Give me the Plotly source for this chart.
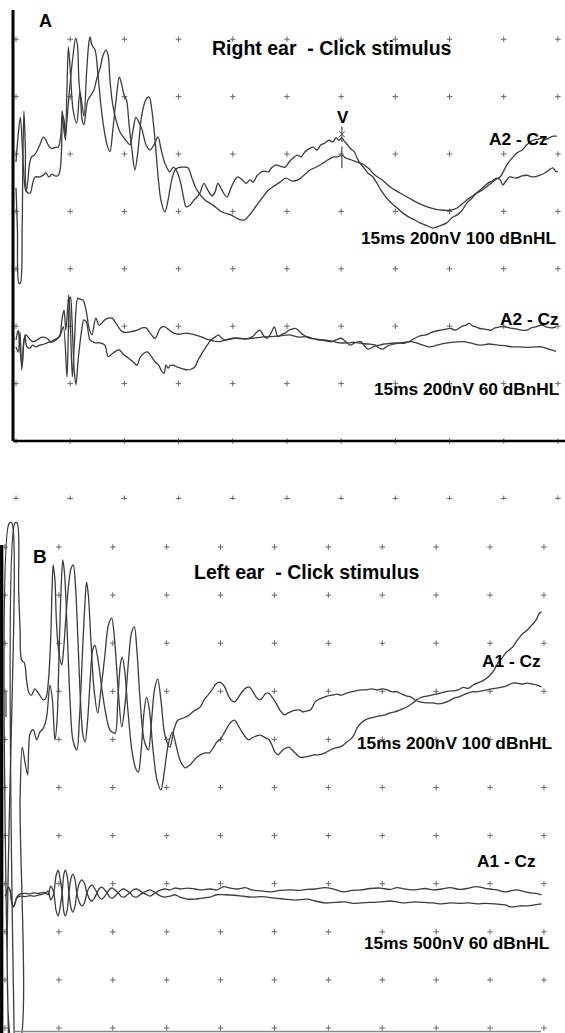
import plotly.graph_objects as go

# ---------------- data (time in ms, amplitude in screen divisions) ----------------
SWEEP_MS = 15.0
DIV_MS = 1.5
A_ROWS = list(range(-1, 8))      # amplitude divisions shown in panel A
B_ROWS = list(range(0, 11))      # amplitude divisions shown in panel B

# Panel A - right ear, 100 dBnHL (two replications)
A_R100_1 = [(0.00,4.41),(0.04,3.68),(0.08,2.75),(0.12,2.75),(0.17,3.68),(0.19,4.90),(0.22,5.75),(0.26,5.07),(0.30,4.34),(0.39,4.32),(0.47,4.51),(0.53,4.60),(0.66,4.60),(0.75,4.63),(0.83,4.67),(0.91,4.60),(1.00,4.65),(1.08,4.62),(1.16,4.62),(1.22,4.72),(1.26,5.07),(1.29,5.68),(1.33,5.59),(1.37,5.24),(1.41,6.12),(1.45,6.86),(1.51,6.38),(1.58,5.77),(1.68,5.54),(1.77,6.08),(1.88,5.66),(1.95,6.38),(2.01,6.90),(2.05,7.04),(2.10,6.90),(2.19,6.81),(2.27,6.38),(2.35,5.85),(2.44,5.42),(2.52,5.16),(2.60,5.04),(2.68,5.42),(2.77,5.94),(2.86,6.34),(2.93,6.20),(2.99,6.03),(3.06,5.94),(3.13,5.51),(3.21,5.07),(3.29,4.72),(3.38,5.07),(3.46,5.59),(3.54,5.85),(3.63,5.98),(3.69,5.99),(3.76,5.77),(3.85,5.24),(3.93,4.63),(4.01,4.20),(4.12,3.99),(4.21,4.20),(4.31,4.55),(4.40,4.72),(4.48,4.76),(4.59,4.77),(4.76,4.76),(4.87,4.58),(5.01,4.37),(5.23,4.20),(5.45,4.11),(5.70,3.99),(5.95,3.94),(6.14,3.87),(6.31,3.85),(6.48,3.95),(6.64,4.09),(6.81,4.23),(6.98,4.37),(7.14,4.44),(7.31,4.51),(7.47,4.58),(7.64,4.53),(7.81,4.55),(7.97,4.63),(8.14,4.72),(8.30,4.77),(8.47,4.83),(8.64,4.90),(8.80,4.95),(8.91,4.95),(9.02,4.98),(9.13,4.93),(9.27,4.90),(9.44,4.86),(9.58,4.83),(9.74,4.76),(9.94,4.63),(10.13,4.55),(10.35,4.43),(10.63,4.32),(10.91,4.22),(11.18,4.13),(11.38,4.08),(11.60,4.04),(11.82,4.02),(12.01,4.02),(12.21,4.06),(12.35,4.13),(12.48,4.20),(12.68,4.29),(12.84,4.37),(13.04,4.48),(13.18,4.53),(13.31,4.58),(13.40,4.55),(13.48,4.46),(13.56,4.53),(13.67,4.60),(13.84,4.58),(14.01,4.62),(14.14,4.63),(14.31,4.60),(14.50,4.63),(14.64,4.67),(14.75,4.72),(14.86,4.76),(14.95,4.69),(15.00,4.70)]

A_R100_2 = [(0.00,4.86),(0.06,5.33),(0.12,5.64),(0.18,5.07),(0.24,4.46),(0.28,4.34),(0.33,4.55),(0.37,4.81),(0.43,4.95),(0.50,4.98),(0.57,5.04),(0.66,5.16),(0.76,5.30),(0.83,5.24),(0.89,5.16),(0.97,5.10),(1.03,5.10),(1.11,5.12),(1.17,5.12),(1.24,5.33),(1.28,5.75),(1.31,5.51),(1.36,5.28),(1.41,5.59),(1.47,6.03),(1.52,6.38),(1.58,6.72),(1.65,7.02),(1.70,6.90),(1.74,6.29),(1.79,5.94),(1.83,5.59),(1.88,5.51),(1.94,5.77),(1.99,5.94),(2.08,6.03),(2.16,6.12),(2.24,6.32),(2.33,6.50),(2.41,6.72),(2.49,6.81),(2.55,6.72),(2.60,6.29),(2.68,5.85),(2.77,5.59),(2.88,5.38),(2.99,5.28),(3.10,5.19),(3.16,5.16),(3.24,5.42),(3.32,5.64),(3.40,5.56),(3.49,5.42),(3.60,5.16),(3.71,5.07),(3.82,5.16),(3.93,5.30),(4.01,5.10),(4.12,4.84),(4.26,4.69),(4.35,4.77),(4.46,4.69),(4.57,4.46),(4.65,4.20),(4.71,4.08),(4.82,4.11),(4.93,4.20),(5.01,4.25),(5.09,4.32),(5.20,4.49),(5.31,4.37),(5.43,4.27),(5.51,4.34),(5.59,4.49),(5.70,4.37),(5.84,4.25),(5.95,4.41),(6.06,4.55),(6.14,4.60),(6.26,4.55),(6.37,4.49),(6.48,4.55),(6.56,4.51),(6.67,4.62),(6.75,4.67),(6.86,4.70),(6.98,4.69),(7.09,4.77),(7.20,4.81),(7.31,4.79),(7.45,4.77),(7.56,4.86),(7.67,4.93),(7.78,4.98),(7.89,4.95),(8.00,5.04),(8.11,5.09),(8.22,5.12),(8.33,5.07),(8.44,5.16),(8.55,5.19),(8.66,5.24),(8.77,5.21),(8.86,5.28),(8.94,5.24),(9.02,5.28),(9.08,5.23),(9.16,5.17),(9.25,5.10),(9.36,5.04),(9.44,4.93),(9.52,4.84),(9.63,4.76),(9.74,4.67),(9.88,4.60),(9.99,4.49),(10.10,4.37),(10.24,4.25),(10.38,4.15),(10.55,4.06),(10.71,3.97),(10.88,3.90),(11.04,3.85),(11.18,3.80),(11.35,3.76),(11.54,3.71),(11.74,3.75),(11.92,3.80),(12.07,3.89),(12.21,3.94),(12.35,4.02),(12.48,4.15),(12.62,4.23),(12.76,4.32),(12.90,4.37),(13.03,4.43),(13.15,4.49),(13.29,4.56),(13.40,4.60),(13.51,4.72),(13.62,4.84),(13.76,4.95),(13.87,5.02),(14.01,5.07),(14.14,5.16),(14.23,5.21),(14.31,5.24),(14.45,5.26),(14.59,5.28),(14.70,5.26),(14.81,5.30),(14.89,5.31),(14.97,5.31)]

# Panel A - right ear, 60 dBnHL
A_R60_1 = [(0.00,1.76),(0.06,1.93),(0.11,1.59),(0.17,1.32),(0.22,1.76),(0.28,1.85),(0.36,1.79),(0.47,1.73),(0.58,1.76),(0.72,1.81),(0.86,1.79),(0.97,1.72),(1.11,1.76),(1.22,1.85),(1.27,2.11),(1.33,2.28),(1.38,1.93),(1.46,2.54),(1.51,1.93),(1.56,1.12),(1.62,1.76),(1.71,2.49),(1.77,2.47),(1.85,2.46),(1.94,2.28),(2.02,1.97),(2.10,1.85),(2.21,2.14),(2.30,2.02),(2.46,2.11),(2.55,2.14),(2.66,2.14),(2.80,2.02),(2.95,1.90),(3.16,1.90),(3.35,1.93),(3.49,1.97),(3.60,1.97),(3.71,1.88),(3.85,1.79),(4.00,1.97),(4.12,1.99),(4.25,1.93),(4.37,1.88),(4.50,1.86),(4.71,1.88),(4.95,1.85),(5.15,1.81),(5.34,1.76),(5.60,1.73),(5.81,1.76),(6.05,1.79),(6.31,1.78),(6.55,1.79),(6.81,1.81),(7.05,1.82),(7.31,1.83),(7.55,1.85),(7.81,1.81),(8.05,1.82),(8.19,1.79),(8.35,1.76),(8.55,1.76),(8.75,1.74),(8.95,1.71),(9.19,1.71),(9.38,1.72),(9.55,1.70),(9.74,1.69),(9.95,1.67),(10.05,1.62),(10.15,1.60),(10.30,1.66),(10.55,1.70),(10.74,1.72),(10.95,1.73),(11.18,1.69),(11.45,1.64),(11.65,1.67),(11.85,1.70),(12.07,1.72),(12.35,1.73),(12.57,1.71),(12.84,1.67),(13.09,1.69),(13.34,1.67),(13.54,1.66),(13.75,1.64),(13.95,1.64),(14.14,1.63),(14.37,1.64),(14.55,1.64),(14.75,1.60),(14.95,1.56)]

A_R60_2 = [(0.00,1.64),(0.06,1.55),(0.11,1.90),(0.16,1.24),(0.21,1.67),(0.25,1.85),(0.30,1.64),(0.39,1.62),(0.46,1.67),(0.55,1.64),(0.66,1.67),(0.78,1.69),(0.86,1.71),(1.00,1.74),(1.11,1.78),(1.21,1.82),(1.31,1.99),(1.41,1.12),(1.45,1.93),(1.48,2.46),(1.51,2.51),(1.55,2.11),(1.61,1.24),(1.66,0.98),(1.72,1.41),(1.80,1.85),(1.88,2.11),(1.95,2.07),(2.05,1.76),(2.19,1.71),(2.33,1.71),(2.46,1.67),(2.55,1.47),(2.68,1.53),(2.85,1.59),(2.99,1.50),(3.10,1.45),(3.24,1.38),(3.35,1.32),(3.43,1.45),(3.54,1.53),(3.65,1.55),(3.76,1.46),(3.85,1.38),(3.95,1.32),(4.01,1.24),(4.10,1.18),(4.15,1.32),(4.21,1.27),(4.26,1.31),(4.35,1.32),(4.46,1.29),(4.55,1.27),(4.65,1.25),(4.75,1.24),(4.84,1.25),(4.95,1.29),(5.04,1.41),(5.15,1.53),(5.26,1.64),(5.40,1.76),(5.51,1.81),(5.60,1.85),(5.70,1.79),(5.80,1.76),(5.92,1.78),(6.05,1.79),(6.20,1.79),(6.37,1.78),(6.55,1.82),(6.64,1.88),(6.75,1.93),(6.86,1.83),(6.95,1.79),(7.06,1.88),(7.15,1.99),(7.25,1.82),(7.36,1.86),(7.45,1.88),(7.55,1.93),(7.64,1.95),(7.75,1.96),(7.86,1.90),(7.95,1.85),(8.05,1.81),(8.15,1.79),(8.28,1.78),(8.45,1.76),(8.61,1.74),(8.75,1.73),(8.86,1.76),(9.00,1.79),(9.11,1.74),(9.25,1.67),(9.38,1.71),(9.55,1.73),(9.63,1.67),(9.74,1.60),(9.88,1.64),(10.05,1.67),(10.19,1.69),(10.35,1.70),(10.55,1.71),(10.74,1.70),(10.91,1.74),(11.04,1.79),(11.18,1.83),(11.35,1.85),(11.54,1.90),(11.74,1.93),(11.90,1.95),(12.04,1.96),(12.15,1.93),(12.25,1.96),(12.35,2.00),(12.46,2.02),(12.54,2.05),(12.65,2.00),(12.73,1.99),(12.84,1.96),(12.98,1.95),(13.15,1.93),(13.26,1.97),(13.40,1.99),(13.54,1.99),(13.65,1.97),(13.75,1.96),(13.87,1.95),(14.01,1.93),(14.14,1.93),(14.26,1.97),(14.39,1.99),(14.55,2.02),(14.67,1.99),(14.81,1.97),(14.95,1.99)]

# Panel B - left ear, 100 dBnHL
B_L100_1 = [(0.26,-0.35),(0.28,10.50),(0.34,10.50),(0.38,9.11),(0.42,8.27),(0.46,7.65),(0.54,7.59),(0.60,7.23),(0.67,6.96),(0.74,6.92),(0.83,7.05),(0.93,6.96),(1.07,6.82),(1.14,6.86),(1.21,7.23),(1.27,8.07),(1.31,9.11),(1.34,9.63),(1.39,9.31),(1.43,8.48),(1.49,7.86),(1.58,7.55),(1.63,7.86),(1.70,8.59),(1.77,9.21),(1.84,9.56),(1.90,9.63),(1.96,9.21),(2.03,8.07),(2.10,6.82),(2.17,6.09),(2.23,5.95),(2.30,6.40),(2.37,7.23),(2.44,7.86),(2.50,7.96),(2.59,7.65),(2.70,7.03),(2.81,6.51),(2.92,6.20),(3.06,6.13),(3.14,6.82),(3.21,7.55),(3.26,7.71),(3.33,7.44),(3.42,6.61),(3.53,5.78),(3.63,5.41),(3.71,5.32),(3.79,5.78),(3.87,6.57),(3.94,6.88),(4.02,6.61),(4.12,5.78),(4.23,5.16),(4.34,4.95),(4.44,5.36),(4.54,5.88),(4.66,6.15),(4.76,5.88),(4.87,5.57),(5.01,5.41),(5.15,5.47),(5.34,5.63),(5.57,5.72),(5.69,5.72),(5.79,5.82),(5.90,5.95),(5.98,5.99),(6.10,6.13),(6.21,6.28),(6.29,6.36),(6.39,6.40),(6.48,6.30),(6.60,6.15),(6.71,6.03),(6.79,5.99),(6.87,6.03),(6.99,6.07),(7.10,6.09),(7.21,6.05),(7.35,5.99),(7.43,5.88),(7.51,5.74),(7.60,5.68),(7.68,5.74),(7.77,5.80),(7.90,5.84),(7.99,5.78),(8.10,5.70),(8.20,5.63),(8.32,5.63),(8.46,5.65),(8.60,5.68),(8.74,5.68),(8.91,5.72),(9.05,5.78),(9.18,5.82),(9.31,5.84),(9.41,5.88),(9.52,5.95),(9.60,5.99),(9.71,6.09),(9.80,6.24),(9.91,6.34),(10.02,6.40),(10.16,6.44),(10.31,6.47),(10.44,6.49),(10.58,6.51),(10.72,6.55),(10.85,6.57),(10.99,6.61),(11.11,6.65),(11.22,6.69),(11.36,6.76),(11.49,6.84),(11.61,6.88),(11.75,6.90),(11.88,6.92),(12.00,6.94),(12.11,6.96),(12.25,6.99),(12.39,7.01),(12.50,7.01),(12.62,7.03),(12.75,7.08),(12.89,7.06),(13.03,7.13),(13.14,7.17),(13.28,7.21),(13.42,7.28),(13.53,7.36),(13.61,7.44),(13.72,7.59),(13.83,7.69),(13.94,7.80),(14.03,7.86),(14.13,7.92),(14.22,8.02),(14.33,8.13),(14.43,8.21),(14.53,8.27),(14.64,8.36),(14.72,8.42),(14.81,8.52),(14.86,8.61),(14.93,8.65)]

B_L100_2 = [(0.10,-0.35),(0.12,10.50),(0.19,10.50),(0.21,-0.35),(0.39,-0.35),(0.42,4.74),(0.48,5.84),(0.56,5.51),(0.63,5.26),(0.70,6.13),(0.79,6.20),(0.88,5.99),(0.97,6.15),(1.07,6.24),(1.16,6.47),(1.25,7.13),(1.32,6.82),(1.39,5.99),(1.45,6.40),(1.50,7.65),(1.56,9.11),(1.61,9.73),(1.66,9.42),(1.73,8.27),(1.81,6.82),(1.89,5.99),(2.00,5.78),(2.07,6.40),(2.16,7.86),(2.23,8.90),(2.27,9.27),(2.32,9.00),(2.39,8.07),(2.48,7.03),(2.58,6.55),(2.67,7.03),(2.78,7.75),(2.88,8.38),(2.97,8.52),(3.05,8.07),(3.15,7.03),(3.25,6.26),(3.34,6.72),(3.44,7.65),(3.52,8.21),(3.60,8.34),(3.67,7.86),(3.76,6.82),(3.87,5.99),(3.99,5.78),(4.08,6.40),(4.16,7.03),(4.25,7.26),(4.34,6.82),(4.45,6.09),(4.59,5.84),(4.70,6.20),(4.81,6.40),(4.95,6.44),(5.09,6.49),(5.26,6.59),(5.43,6.67),(5.54,6.82),(5.65,6.92),(5.76,7.03),(5.87,7.15),(5.98,7.19),(6.10,7.11),(6.21,6.92),(6.29,6.82),(6.39,6.78),(6.48,6.86),(6.60,6.99),(6.71,7.07),(6.79,7.09),(6.87,7.03),(6.99,6.88),(7.10,6.82),(7.18,6.88),(7.26,6.96),(7.35,6.96),(7.43,6.88),(7.54,6.76),(7.65,6.61),(7.74,6.53),(7.79,6.51),(7.88,6.55),(7.99,6.59),(8.10,6.61),(8.21,6.61),(8.29,6.57),(8.38,6.59),(8.50,6.61),(8.57,6.69),(8.63,6.78),(8.70,6.82),(8.82,6.86),(8.96,6.90),(9.10,6.92),(9.24,6.94),(9.35,6.92),(9.51,6.96),(9.63,6.99),(9.77,7.01),(9.91,7.03),(10.05,7.03),(10.21,7.05),(10.35,7.03),(10.51,7.05),(10.63,7.03),(10.77,6.99),(10.91,6.99),(11.05,6.94),(11.19,6.90),(11.30,6.88),(11.41,6.82),(11.55,6.78),(11.72,6.76),(11.91,6.76),(12.05,6.74),(12.22,6.76),(12.36,6.80),(12.50,6.86),(12.62,6.88),(12.75,6.92),(12.89,6.96),(13.00,6.99),(13.12,6.99),(13.28,7.01),(13.42,7.03),(13.55,7.05),(13.72,7.07),(13.86,7.09),(14.00,7.13),(14.13,7.17),(14.25,7.17),(14.39,7.15),(14.53,7.17),(14.67,7.15),(14.81,7.13),(14.93,7.09)]

# Panel B - left ear, 60 dBnHL
B_L60_1 = [(0.00,2.74),(0.03,2.77),(0.09,2.93),(0.14,2.87),(0.19,2.60),(0.24,2.52),(0.28,2.60),(0.33,2.72),(0.42,2.79),(0.56,2.80),(0.70,2.79),(0.79,2.81),(0.92,2.80),(1.07,2.82),(1.14,2.81),(1.20,2.85),(1.27,2.66),(1.31,2.70),(1.36,2.81),(1.42,3.16),(1.48,3.28),(1.53,3.12),(1.59,2.81),(1.64,2.41),(1.68,2.33),(1.73,2.45),(1.78,2.81),(1.84,3.12),(1.89,3.20),(1.95,3.08),(2.00,2.81),(2.09,2.58),(2.14,2.54),(2.21,2.60),(2.28,2.81),(2.37,2.95),(2.42,2.97),(2.49,2.91),(2.56,2.81),(2.64,2.70),(2.70,2.68),(2.78,2.74),(2.84,2.81),(2.92,2.89),(2.99,2.91),(3.06,2.87),(3.15,2.81),(3.23,2.74),(3.31,2.72),(3.40,2.77),(3.48,2.81),(3.56,2.87),(3.66,2.89),(3.76,2.85),(3.84,2.81),(3.95,2.77),(4.04,2.74),(4.15,2.79),(4.23,2.83),(4.34,2.87),(4.45,2.89),(4.59,2.87),(4.73,2.91),(4.87,2.89),(5.08,2.91),(5.29,2.89),(5.48,2.87),(5.71,2.89),(5.89,2.87),(6.09,2.94),(6.26,2.91),(6.48,2.89),(6.69,2.92),(6.87,2.87),(7.10,2.85),(7.40,2.83),(7.65,2.86),(7.93,2.87),(8.21,2.86),(8.40,2.88),(8.63,2.89),(8.91,2.92),(9.13,2.89),(9.41,2.83),(9.66,2.86),(9.91,2.87),(10.16,2.90),(10.44,2.91),(10.72,2.88),(10.91,2.92),(11.13,2.89),(11.41,2.87),(11.69,2.90),(11.91,2.87),(12.16,2.89),(12.39,2.92),(12.66,2.88),(12.91,2.91),(13.11,2.94),(13.33,2.91),(13.50,2.89),(13.69,2.87),(13.92,2.83),(14.11,2.86),(14.25,2.87),(14.43,2.84),(14.61,2.81),(14.78,2.80),(14.93,2.77)]

B_L60_2 = [(0.00,2.74),(0.03,2.77),(0.09,2.93),(0.14,2.87),(0.19,2.60),(0.24,2.52),(0.28,2.60),(0.33,2.70),(0.42,2.74),(0.56,2.73),(0.70,2.75),(0.79,2.74),(0.92,2.76),(1.07,2.79),(1.14,2.81),(1.20,2.77),(1.27,2.95),(1.31,2.91),(1.36,2.81),(1.42,2.45),(1.48,2.33),(1.53,2.49),(1.59,2.81),(1.64,3.20),(1.68,3.28),(1.73,3.16),(1.78,2.81),(1.84,2.49),(1.89,2.41),(1.95,2.54),(2.00,2.81),(2.09,3.04),(2.14,3.08),(2.21,3.01),(2.28,2.81),(2.37,2.66),(2.42,2.64),(2.49,2.70),(2.56,2.81),(2.64,2.91),(2.70,2.93),(2.78,2.87),(2.84,2.81),(2.92,2.72),(2.99,2.70),(3.06,2.74),(3.15,2.81),(3.23,2.87),(3.31,2.89),(3.40,2.85),(3.48,2.81),(3.56,2.74),(3.66,2.72),(3.76,2.77),(3.84,2.81),(3.95,2.85),(4.04,2.87),(4.15,2.83),(4.23,2.79),(4.34,2.74),(4.45,2.72),(4.59,2.74),(4.73,2.77),(4.87,2.72),(5.08,2.68),(5.29,2.68),(5.48,2.70),(5.71,2.72),(5.89,2.77),(6.12,2.77),(6.39,2.76),(6.62,2.74),(6.89,2.72),(7.15,2.73),(7.50,2.70),(7.79,2.68),(8.07,2.66),(8.40,2.68),(8.63,2.64),(8.91,2.60),(9.18,2.61),(9.46,2.62),(9.69,2.59),(9.91,2.60),(10.16,2.61),(10.44,2.62),(10.72,2.64),(10.91,2.62),(11.13,2.60),(11.41,2.62),(11.69,2.61),(11.91,2.60),(12.16,2.58),(12.39,2.60),(12.66,2.59),(12.91,2.60),(13.14,2.58),(13.36,2.59),(13.64,2.58),(13.92,2.56),(14.06,2.52),(14.19,2.52),(14.33,2.54),(14.53,2.54),(14.75,2.56),(14.93,2.58)]

# Wave V marking (panel A, 100 dBnHL)
WAVE_V_MS = 9.02
WAVE_V_MARK_1 = (4.75, 5.13)
WAVE_V_MARK_2 = (5.21, 5.48)

# ---------------- figure ----------------
W, H = 565, 1033
LINE = dict(color="#3c3c3c", width=1.3, shape="spline", smoothing=0.9)
DOT = dict(symbol="cross-thin", size=4, line=dict(width=1, color="#6a6a6a"), color="#6a6a6a")
FONT = "Liberation Sans, Arial, sans-serif"

fig = go.Figure()

cols = [i * DIV_MS for i in range(int(SWEEP_MS / DIV_MS) + 1)]


def grid(xa, ya, rows):
    xs, ys = [], []
    for r in rows:
        for c in cols:
            xs.append(c)
            ys.append(r)
    fig.add_trace(go.Scatter(x=xs, y=ys, mode="markers", marker=DOT, xaxis=xa, yaxis=ya,
                             hoverinfo="skip", cliponaxis=False))


def wave(pts, xa, ya):
    fig.add_trace(go.Scatter(x=[p[0] for p in pts], y=[p[1] for p in pts], mode="lines",
                             line=LINE, xaxis=xa, yaxis=ya, hoverinfo="skip"))


grid("x", "y", A_ROWS)
grid("x2", "y2", B_ROWS)

for tr in (A_R100_1, A_R100_2, A_R60_1, A_R60_2):
    wave(tr, "x", "y")
for tr in (B_L100_1, B_L100_2, B_L60_1, B_L60_2):
    wave(tr, "x2", "y2")

for lo, hi in (WAVE_V_MARK_1, WAVE_V_MARK_2):
    fig.add_trace(go.Scatter(x=[WAVE_V_MS, WAVE_V_MS], y=[lo, hi], mode="lines",
                             line=dict(color="#555", width=1.3), xaxis="x", yaxis="y",
                             hoverinfo="skip"))
fig.add_trace(go.Scatter(x=[WAVE_V_MS], y=[sum(WAVE_V_MARK_2) / 2], mode="markers",
                         marker=dict(symbol="x-thin", size=6, line=dict(width=1, color="#555")),
                         xaxis="x", yaxis="y", hoverinfo="skip"))

ax_off = dict(visible=False, showgrid=False, zeroline=False, fixedrange=True)
fig.update_layout(
    width=W, height=H, margin=dict(l=0, r=0, t=0, b=0),
    paper_bgcolor="white", plot_bgcolor="white", showlegend=False,
    xaxis=dict(ax_off, domain=[13 / W, 1], range=[-0.083, 15.196], anchor="y"),
    yaxis=dict(ax_off, domain=[1 - 505 / H, 1 - 10 / H], range=[-1.115, 7.509], anchor="x"),
    xaxis2=dict(ax_off, domain=[0, 1], range=[-0.139, 15.586], anchor="y2"),
    yaxis2=dict(ax_off, domain=[0, 1 - 500 / H], range=[-0.104, 10.977], anchor="x2"),
)

shapes = [
    # panel A axes
    dict(type="line", xref="x domain", yref="y", x0=0, x1=0, y0=0, y1=7.509,
         line=dict(color="black", width=3)),
    dict(type="line", xref="x domain", yref="y", x0=0, x1=1, y0=0, y1=0,
         line=dict(color="black", width=2.5)),
    # panel B frame pieces
    dict(type="line", xref="paper", yref="paper", x0=1.7 / W, x1=1.7 / W, y0=0, y1=1 - 545 / H,
         line=dict(color="black", width=3.3)),
    dict(type="line", xref="paper", yref="paper", x0=14 / W, x1=541 / W, y0=1 - 1031.5 / H,
         y1=1 - 1031.5 / H, line=dict(color="#8a8a8a", width=1.5)),
    dict(type="line", xref="paper", yref="paper", x0=6 / W, x1=6 / W, y0=1 - 717 / H,
         y1=1 - 690 / H, line=dict(color="#8a8a8a", width=2)),
]
fig.update_layout(shapes=shapes)


def label(text, x, y, size=17.3, xanchor="right"):
    fig.add_annotation(text="<b>" + text + "</b>", xref="paper", yref="paper",
                       x=x / W, y=1 - y / H, xanchor=xanchor, yanchor="middle",
                       showarrow=False, font=dict(family=FONT, size=size, color="black"))


label("A", 45, 21, size=18, xanchor="center")
label("Right ear\u00a0 - Click stimulus", 332, 48, size=19.5, xanchor="center")
label("V", 343, 117, size=17, xanchor="center")
label("A2 - Cz", 550, 139)
label("15ms 200nV 100 dBnHL", 558, 238)
label("A2 - Cz", 561, 319)
label("15ms 200nV 60 dBnHL", 562, 389)
label("B", 40, 556, size=19, xanchor="center")
label("Left ear\u00a0 - Click stimulus", 307, 572, size=19.5, xanchor="center")
label("A1 - Cz", 543, 661)
label("15ms 200nV 100 dBnHL", 554, 743)
label("A1 - Cz", 538, 861)
label("15ms 500nV 60 dBnHL", 552, 943)

fig.write_html("out.html", config={"displayModeBar": False, "staticPlot": True},
               post_script="document.body.style.margin='0';document.body.style.overflow='hidden';")
